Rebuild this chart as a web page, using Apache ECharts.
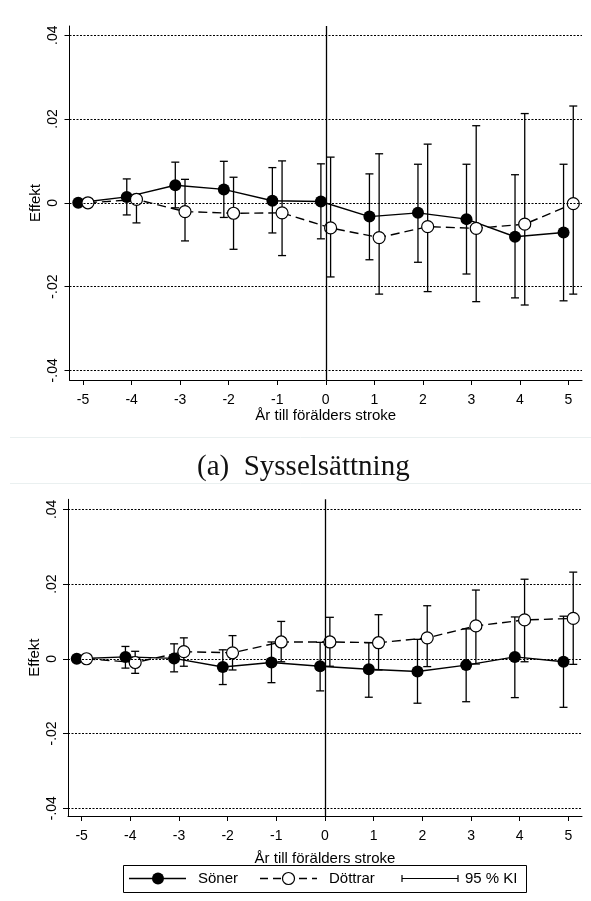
<!DOCTYPE html>
<html>
<head>
<meta charset="utf-8">
<script src="https://cdn.jsdelivr.net/npm/echarts@6/dist/echarts.min.js"></script>
<style>
  html, body { margin: 0; padding: 0; background: #fff; }
  #chart { width: 591px; height: 901px; }
</style>
</head>
<body>
<div id="chart"></div>
<script>
// Event-study estimates: years relative to the parent's stroke
const years = [-5, -4, -3, -2, -1, 0, 1, 2, 3, 4, 5];
const yTicks = [-0.04, -0.02, 0, 0.02, 0.04];
const yTickLabels = ['-.04', '-.02', '0', '.02', '.04'];

// Panel (a): employment
const sonerEmp   = [0, 0.0014, 0.0042, 0.0032, 0.0005, 0.0003, -0.0033, -0.0024, -0.0039, -0.0081, -0.0071];
const sonerEmpLo = [null, -0.0029, -0.0012, -0.0035, -0.0072, -0.0086, -0.0136, -0.0142, -0.0170, -0.0227, -0.0234];
const sonerEmpHi = [null, 0.0057, 0.0097, 0.0099, 0.0084, 0.0093, 0.0069, 0.0092, 0.0092, 0.0067, 0.0092];
const dottrarEmp   = [0, 0.0008, -0.0021, -0.0025, -0.0024, -0.0060, -0.0083, -0.0057, -0.0061, -0.0051, -0.0002];
const dottrarEmpLo = [null, -0.0048, -0.0091, -0.0111, -0.0126, -0.0177, -0.0218, -0.0212, -0.0236, -0.0244, -0.0218];
const dottrarEmpHi = [null, 0.0020, 0.0056, 0.0061, 0.0100, 0.0109, 0.0117, 0.0140, 0.0184, 0.0213, 0.0231];

// Panel (b)
const sonerB   = [0, 0.0005, 0.0001, -0.0022, -0.0010, -0.0020, -0.0028, -0.0034, -0.0017, 0.0005, -0.0008];
const sonerBLo = [null, -0.0025, -0.0035, -0.0069, -0.0064, -0.0086, -0.0103, -0.0119, -0.0115, -0.0104, -0.0130];
const sonerBHi = [null, 0.0033, 0.0040, 0.0024, 0.0045, 0.0044, 0.0043, 0.0052, 0.0080, 0.0112, 0.0114];
const dottrarB   = [0, -0.0010, 0.0019, 0.0016, 0.0045, 0.0045, 0.0043, 0.0056, 0.0088, 0.0104, 0.0108];
const dottrarBLo = [null, -0.0039, -0.0020, -0.0030, -0.0008, -0.0020, -0.0030, -0.0021, -0.0014, -0.0008, -0.0015];
const dottrarBHi = [null, 0.0020, 0.0056, 0.0062, 0.0100, 0.0111, 0.0118, 0.0142, 0.0184, 0.0213, 0.0232];

// Horizontal dodge so the two groups do not overlap
const DODGE = 0.1;

const SANS = '"Liberation Sans", Arial, sans-serif';
const SERIF = '"Liberation Serif", "Times New Roman", serif';

const chart = echarts.init(document.getElementById('chart'), null, { renderer: 'canvas' });

function pts(vals, shift) {
  return years.map((t, i) => [t + shift, vals[i]]);
}
function ci(lo, hi, shift) {
  const out = [];
  years.forEach((t, i) => {
    if (lo[i] !== null && hi[i] !== null) out.push([t + shift, lo[i], hi[i]]);
  });
  return out;
}

function renderErrorBar(params, api) {
  const x = api.value(0);
  const top = api.coord([x, api.value(2)]);
  const bot = api.coord([x, api.value(1)]);
  const hw = 4;
  const style = { stroke: '#000', lineWidth: 1.3, fill: null };
  return {
    type: 'group',
    children: [
      { type: 'line', shape: { x1: top[0], y1: top[1], x2: bot[0], y2: bot[1] }, style },
      { type: 'line', shape: { x1: top[0] - hw, y1: top[1], x2: top[0] + hw, y2: top[1] }, style },
      { type: 'line', shape: { x1: bot[0] - hw, y1: bot[1], x2: bot[0] + hw, y2: bot[1] }, style }
    ]
  };
}

function yLabel(v) {
  for (let i = 0; i < yTicks.length; i++) {
    if (Math.abs(v - yTicks[i]) < 1e-9) return yTickLabels[i];
  }
  return '';
}

function xAxisCfg(gridIndex, nameGap) {
  return {
    type: 'value', gridIndex,
    min: -5.28, max: 5.28,
    name: 'År till förälders stroke',
    nameLocation: 'middle', nameGap, nameMoveOverlap: false,
    nameTextStyle: { fontFamily: SANS, fontSize: 15, color: '#000' },
    axisLine: { show: true, onZero: false, lineStyle: { color: '#000', width: 1 } },
    axisTick: { show: true, length: 5, inside: false, customValues: years, lineStyle: { color: '#000', width: 1 } },
    axisLabel: { show: true, customValues: years, margin: 13, fontFamily: SANS, fontSize: 14, color: '#000',
                 formatter: v => String(v) },
    splitLine: { show: false }
  };
}

function yAxisCfg(gridIndex, min, max) {
  return {
    type: 'value', gridIndex,
    min, max,
    name: 'Effekt',
    nameLocation: 'middle', nameGap: 26, nameRotate: 90, nameMoveOverlap: false,
    nameTextStyle: { fontFamily: SANS, fontSize: 15, color: '#000' },
    axisLine: { show: true, onZero: false, lineStyle: { color: '#000', width: 1 } },
    axisTick: { show: true, length: 5, inside: false, customValues: yTicks, lineStyle: { color: '#000', width: 1 } },
    axisLabel: { show: true, customValues: yTicks, rotate: 90, margin: 9, fontFamily: SANS, fontSize: 14, color: '#000',
                 formatter: yLabel },
    splitLine: { show: false }
  };
}

// Reference lines: dotted at each y tick, solid at the stroke year
function refLines(idx) {
  return {
    type: 'line', xAxisIndex: idx, yAxisIndex: idx, data: [], z: 1, silent: true,
    markLine: {
      silent: true, symbol: ['none', 'none'], animation: false,
      label: { show: false },
      data: yTicks.map(v => ({ yAxis: v, lineStyle: { type: [2, 1.5], color: '#000', width: 1.2 } }))
        .concat([{ xAxis: 0, lineStyle: { type: 'solid', color: '#000', width: 1.3 } }])
    }
  };
}

function panelSeries(idx, s, sLo, sHi, d, dLo, dHi) {
  return [
    refLines(idx),
    {
      name: '95 % KI', type: 'custom', xAxisIndex: idx, yAxisIndex: idx, z: 2,
      renderItem: renderErrorBar, encode: { x: 0, y: [1, 2] },
      data: ci(sLo, sHi, -DODGE).concat(ci(dLo, dHi, DODGE))
    },
    {
      name: 'Söner', type: 'line', xAxisIndex: idx, yAxisIndex: idx, z: 3,
      data: pts(s, -DODGE),
      symbol: 'circle', symbolSize: 12, showAllSymbol: true,
      lineStyle: { color: '#000', width: 1.4, type: 'solid' },
      itemStyle: { color: '#000', borderColor: '#000', borderWidth: 0 }
    },
    {
      name: 'Döttrar', type: 'line', xAxisIndex: idx, yAxisIndex: idx, z: 4,
      data: pts(d, DODGE),
      symbol: 'circle', symbolSize: 12, showAllSymbol: true,
      lineStyle: { color: '#000', width: 1.4, type: [9, 5] },
      itemStyle: { color: '#fff', borderColor: '#000', borderWidth: 1.2 }
    }
  ];
}

const LY = 878.5;
const option = {
  animation: false,
  backgroundColor: '#fff',
  grid: [
    { left: 69.5, top: 26, width: 512.5, height: 354, containLabel: false },
    { left: 68, top: 499.3, width: 514, height: 316.7, containLabel: false }
  ],
  xAxis: [xAxisCfg(0, 28), xAxisCfg(1, 35)],
  yAxis: [yAxisCfg(0, -0.0423, 0.0422), yAxisCfg(1, -0.0421, 0.0427)],
  series: panelSeries(0, sonerEmp, sonerEmpLo, sonerEmpHi, dottrarEmp, dottrarEmpLo, dottrarEmpHi)
    .concat(panelSeries(1, sonerB, sonerBLo, sonerBHi, dottrarB, dottrarBLo, dottrarBHi)),
  graphic: [
    // caption strip between the panels
    { type: 'line', silent: true, shape: { x1: 10, y1: 437.5, x2: 591, y2: 437.5 }, style: { stroke: '#eaf0f0', lineWidth: 1 } },
    { type: 'line', silent: true, shape: { x1: 10, y1: 483.5, x2: 591, y2: 483.5 }, style: { stroke: '#eaf0f0', lineWidth: 1 } },
    { type: 'text', silent: true, x: 197, y: 467,
      style: { text: '(a)  Sysselsättning', font: '29px ' + SERIF, fill: '#111', verticalAlign: 'middle' } },

    // legend
    { type: 'rect', silent: true, shape: { x: 123.5, y: 865.5, width: 403, height: 27 },
      style: { fill: '#fff', stroke: '#000', lineWidth: 1 } },
    { type: 'line', silent: true, shape: { x1: 129, y1: LY, x2: 186, y2: LY }, style: { stroke: '#000', lineWidth: 1.4 } },
    { type: 'circle', silent: true, shape: { cx: 158, cy: LY, r: 6 }, style: { fill: '#000' } },
    { type: 'text', silent: true, x: 198, y: LY,
      style: { text: 'Söner', font: '15px ' + SANS, fill: '#000', verticalAlign: 'middle' } },
    { type: 'line', silent: true, shape: { x1: 260, y1: LY, x2: 317, y2: LY }, style: { stroke: '#000', lineWidth: 1.4, lineDash: [8, 5] } },
    { type: 'circle', silent: true, shape: { cx: 288.5, cy: LY, r: 6 }, style: { fill: '#fff', stroke: '#000', lineWidth: 1.2 } },
    { type: 'text', silent: true, x: 329, y: LY,
      style: { text: 'Döttrar', font: '15px ' + SANS, fill: '#000', verticalAlign: 'middle' } },
    { type: 'line', silent: true, shape: { x1: 402, y1: LY, x2: 458, y2: LY }, style: { stroke: '#000', lineWidth: 1.2 } },
    { type: 'line', silent: true, shape: { x1: 402, y1: LY - 3.5, x2: 402, y2: LY + 3.5 }, style: { stroke: '#000', lineWidth: 1.2 } },
    { type: 'line', silent: true, shape: { x1: 458, y1: LY - 3.5, x2: 458, y2: LY + 3.5 }, style: { stroke: '#000', lineWidth: 1.2 } },
    { type: 'text', silent: true, x: 465, y: LY,
      style: { text: '95 % KI', font: '15px ' + SANS, fill: '#000', verticalAlign: 'middle' } }
  ]
};

chart.setOption(option);
</script>
</body>
</html>
